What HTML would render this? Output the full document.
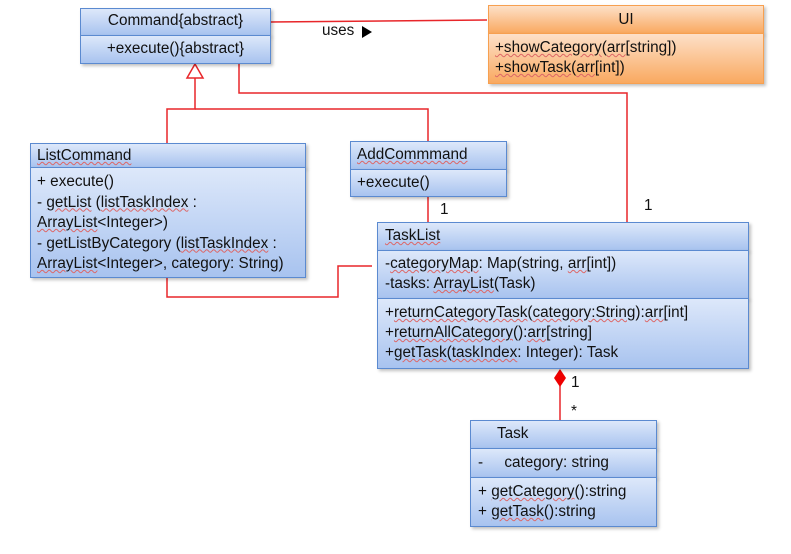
<!DOCTYPE html>
<html><head><meta charset="utf-8"><style>
body{margin:0;width:791px;height:554px;background:#fff;position:relative;overflow:hidden;font-family:"Liberation Sans",sans-serif;font-size:15.3px;color:#111}
.b{position:absolute;border:1.5px solid #5b8ad0;box-sizing:border-box;background:linear-gradient(#dde8fa,#a8c3ef);box-shadow:2px 2px 3px rgba(0,0,0,.25)}
.o{position:absolute;border:1.5px solid #f7a050;box-sizing:border-box;background:linear-gradient(#fde0c8,#f9a960);box-shadow:2px 2px 3px rgba(0,0,0,.25)}
.t{position:absolute;white-space:nowrap;line-height:20px}
.u{text-decoration:underline;text-decoration-color:#d66;text-decoration-style:wavy;text-decoration-thickness:1px}
</style></head><body>
<svg width="791" height="554" style="position:absolute;left:0;top:0">
<g stroke="#e8262a" stroke-width="1.5" fill="none">
<polyline points="270,22 487,20"/>
<polyline points="239,64 239,93 627,93 627,222"/>
<polyline points="195,78 195,109 167,109 167,143"/>
<polyline points="195,109 428,109 428,141"/>
<polyline points="428,197 428,222"/>
<polyline points="167,278 167,297 338,297 338,266 372,266"/>
<polyline points="560,386 560,420"/>
<polygon points="195,64 187,78 203,78" fill="#fff"/>
</g>
<polygon points="560,369 566,378 560,387 554,378" fill="#e00"/>
<polygon points="362,26 372,32 362,38" fill="#000"/>
</svg>
<div class="t" style="left:322px;top:21px">uses</div>
<div class="t" style="left:440px;top:200px">1</div>
<div class="t" style="left:644px;top:196px">1</div>
<div class="t" style="left:571px;top:373px">1</div>
<div class="t" style="left:571px;top:402px">*</div>

<div class="b" style="left:80px;top:8px;width:191px;height:28px"></div>
<div class="b" style="left:80px;top:35px;width:191px;height:29px"></div>
<div class="t" style="left:80px;width:191px;text-align:center;top:11px">Command{abstract}</div>
<div class="t" style="left:80px;width:191px;text-align:center;top:39px">+execute(){abstract}</div>

<div class="o" style="left:488px;top:5px;width:276px;height:29px"></div>
<div class="o" style="left:488px;top:33px;width:276px;height:51px"></div>
<div class="t" style="left:488px;width:276px;text-align:center;top:10px">UI</div>
<div class="t" style="left:495px;top:38px"><span class="u">+showCategory</span>(<span class="u">arr</span>[string])<br><span class="u">+showTask</span>(<span class="u">arr</span>[int])</div>

<div class="b" style="left:30px;top:143px;width:276px;height:25px"></div>
<div class="b" style="left:30px;top:167px;width:276px;height:111px"></div>
<div class="t" style="left:37px;top:146px"><span class="u">ListCommand</span></div>
<div class="t" style="left:37px;top:172px;line-height:20.5px">+ execute()<br>- <span class="u">getList</span> (<span class="u">listTaskIndex</span> :<br><span class="u">ArrayList</span>&lt;Integer&gt;)<br>- getListByCategory (<span class="u">listTaskIndex</span> :<br><span class="u">ArrayList</span>&lt;Integer&gt;, category: String)</div>

<div class="b" style="left:350px;top:141px;width:157px;height:29px"></div>
<div class="b" style="left:350px;top:169px;width:157px;height:28px"></div>
<div class="t" style="left:357px;top:145px"><span class="u">AddCommmand</span></div>
<div class="t" style="left:357px;top:173px">+execute()</div>

<div class="b" style="left:377px;top:222px;width:372px;height:29px"></div>
<div class="b" style="left:377px;top:250px;width:372px;height:49px"></div>
<div class="b" style="left:377px;top:298px;width:372px;height:71px"></div>
<div class="t" style="left:385px;top:226px"><span class="u">TaskList</span></div>
<div class="t" style="left:385px;top:254px">-<span class="u">categoryMap</span>: Map(string, <span class="u">arr</span>[int])<br>-tasks: <span class="u">ArrayList</span>(Task)</div>
<div class="t" style="left:385px;top:303px">+<span class="u">returnCategoryTask</span>(<span class="u">category:String</span>):<span class="u">arr</span>[int]<br>+<span class="u">returnAllCategory</span>():<span class="u">arr</span>[string]<br>+<span class="u">getTask</span>(<span class="u">taskIndex</span>: Integer): Task</div>

<div class="b" style="left:470px;top:420px;width:187px;height:29px"></div>
<div class="b" style="left:470px;top:448px;width:187px;height:30px"></div>
<div class="b" style="left:470px;top:477px;width:187px;height:50px"></div>
<div class="t" style="left:497px;top:424px">Task</div>
<div class="t" style="left:478px;top:453px">-&nbsp;&nbsp;&nbsp;&nbsp;&nbsp;category: string</div>
<div class="t" style="left:478px;top:482px">+ <span class="u">getCategory</span>():string<br>+ <span class="u">getTask</span>():string</div>
</body></html>
